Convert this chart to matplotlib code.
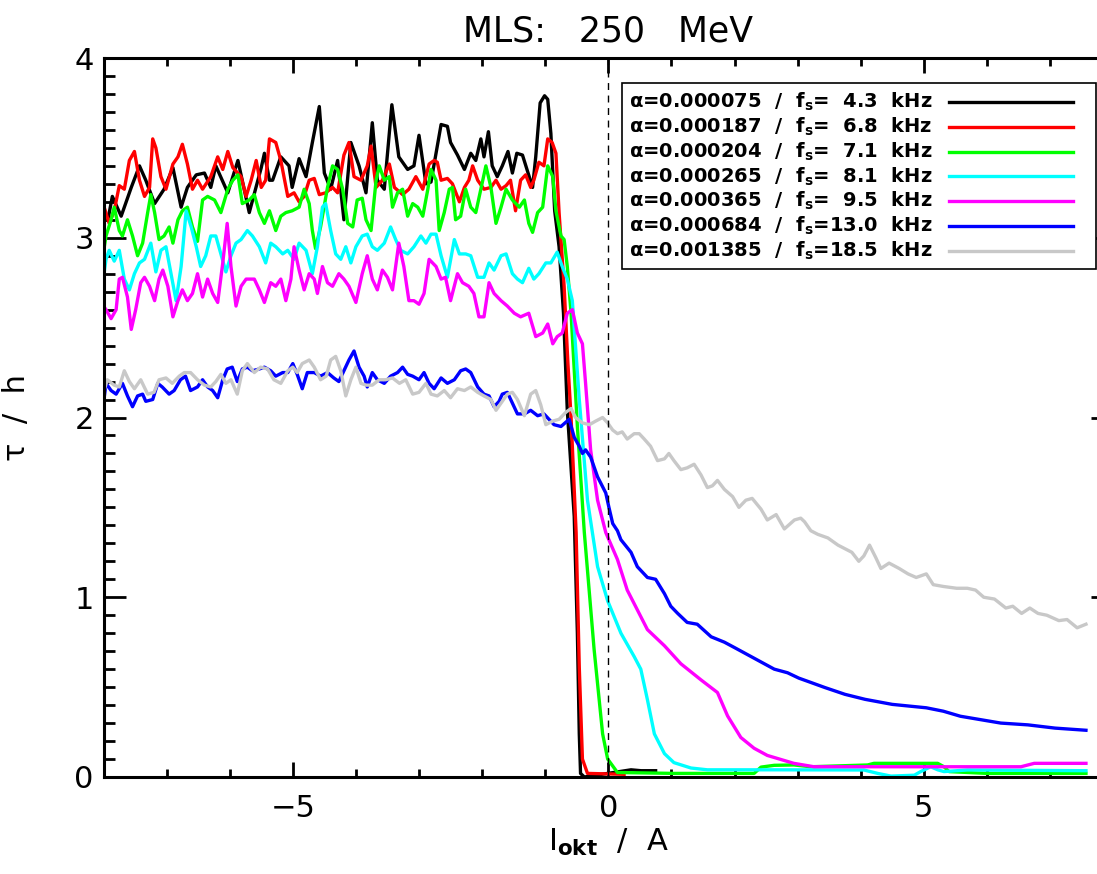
import matplotlib
matplotlib.use('Agg')
import matplotlib.pyplot as plt
from matplotlib.ticker import MultipleLocator

plt.rcParams['font.family'] = ['DejaVu Sans']
plt.rcParams['mathtext.fontset'] = 'dejavusans'

# Werte (I_okt in A, tau in h)
bk_x = [-8.00, -7.93, -7.86, -7.72, -7.56, -7.43, -7.33, -7.19, -7.04, -6.90, -6.77, -6.67, -6.53, -6.40, -6.30,
        -6.22, -6.03, -5.87, -5.69, -5.50, -5.45, -5.37, -5.32, -5.19, -5.06, -5.01, -4.90, -4.79, -4.69, -4.58,
        -4.50, -4.40, -4.29, -4.19, -4.08, -3.95, -3.84, -3.74, -3.66, -3.55, -3.43, -3.32, -3.18, -3.08, -3.00,
        -2.89, -2.81, -2.65, -2.55, -2.50, -2.39, -2.28, -2.18, -2.10, -2.02, -1.97, -1.90, -1.84, -1.76, -1.68,
        -1.59, -1.52, -1.45, -1.36, -1.28, -1.20, -1.15, -1.08, -1.01, -0.96, -0.91, -0.85, -0.78, -0.71, -0.65,
        -0.54, -0.49, -0.46, -0.44, -0.38, -0.01, 0.36, 0.52, 0.75]
bk_y = [3.12, 3.10, 3.23, 3.12, 3.28, 3.40, 3.32, 3.19, 3.27, 3.39, 3.17, 3.28, 3.35, 3.36, 3.28,
        3.40, 3.25, 3.43, 3.14, 3.39, 3.47, 3.32, 3.32, 3.45, 3.40, 3.28, 3.44, 3.34, 3.53, 3.73,
        3.36, 3.27, 3.43, 3.10, 3.53, 3.40, 3.25, 3.64, 3.32, 3.27, 3.74, 3.45, 3.38, 3.40, 3.57,
        3.30, 3.31, 3.63, 3.62, 3.53, 3.46, 3.38, 3.47, 3.43, 3.55, 3.45, 3.59, 3.40, 3.34, 3.40,
        3.48, 3.36, 3.47, 3.46, 3.37, 3.28, 3.45, 3.75, 3.79, 3.77, 3.58, 3.15, 2.95, 2.58, 2.04,
        1.45, 0.80, 0.24, 0.02, 0.00, 0.02, 0.04, 0.035, 0.035]

rd_x = [-8.00, -7.99, -7.91, -7.83, -7.75, -7.67, -7.59, -7.51, -7.43, -7.35, -7.27, -7.22, -7.17, -7.09, -7.01,
        -6.90, -6.82, -6.75, -6.67, -6.59, -6.51, -6.43, -6.30, -6.19, -6.11, -6.03, -5.95, -5.82, -5.74, -5.66,
        -5.58, -5.50, -5.43, -5.37, -5.27, -5.19, -5.08, -4.98, -4.90, -4.82, -4.74, -4.66, -4.58, -4.48, -4.37,
        -4.29, -4.19, -4.11, -4.03, -3.92, -3.82, -3.76, -3.68, -3.58, -3.47, -3.39, -3.26, -3.16, -3.05, -2.94,
        -2.84, -2.76, -2.71, -2.65, -2.55, -2.47, -2.36, -2.28, -2.21, -2.15, -2.07, -1.97, -1.86, -1.78, -1.70,
        -1.62, -1.55, -1.47, -1.39, -1.31, -1.23, -1.18, -1.10, -1.02, -0.96, -0.89, -0.83, -0.78, -0.70, -0.64,
        -0.59, -0.51, -0.46, -0.41, -0.33, 0.25]
rd_y = [3.36, 3.17, 3.08, 3.15, 3.29, 3.27, 3.43, 3.48, 3.32, 3.23, 3.28, 3.55, 3.50, 3.34, 3.27,
        3.41, 3.45, 3.52, 3.41, 3.27, 3.32, 3.27, 3.34, 3.45, 3.38, 3.48, 3.39, 3.34, 3.23, 3.32,
        3.43, 3.28, 3.32, 3.55, 3.53, 3.43, 3.23, 3.25, 3.20, 3.23, 3.32, 3.33, 3.24, 3.25, 3.28,
        3.25, 3.46, 3.53, 3.34, 3.32, 3.40, 3.51, 3.28, 3.32, 3.41, 3.28, 3.24, 3.27, 3.34, 3.27,
        3.41, 3.43, 3.42, 3.32, 3.33, 3.30, 3.20, 3.28, 3.32, 3.40, 3.32, 3.27, 3.28, 3.32, 3.27,
        3.29, 3.32, 3.15, 3.32, 3.35, 3.28, 3.32, 3.42, 3.40, 3.55, 3.53, 3.47, 3.14, 2.73, 2.30,
        2.00, 1.36, 0.61, 0.10, 0.02, 0.015]

gn_x = [-8.00, -7.96, -7.88, -7.83, -7.75, -7.70, -7.62, -7.54, -7.46, -7.38, -7.30, -7.25, -7.19, -7.12, -7.04,
        -6.96, -6.90, -6.82, -6.75, -6.67, -6.59, -6.51, -6.43, -6.35, -6.24, -6.14, -6.03, -5.95, -5.87, -5.80,
        -5.69, -5.61, -5.53, -5.45, -5.37, -5.27, -5.19, -5.11, -5.01, -4.90, -4.82, -4.74, -4.69, -4.64, -4.56,
        -4.45, -4.37, -4.29, -4.21, -4.13, -4.05, -3.98, -3.90, -3.84, -3.76, -3.68, -3.63, -3.55, -3.47, -3.42,
        -3.34, -3.26, -3.18, -3.10, -3.02, -2.94, -2.86, -2.81, -2.73, -2.68, -2.60, -2.52, -2.47, -2.42, -2.34,
        -2.26, -2.18, -2.10, -2.02, -1.94, -1.86, -1.78, -1.70, -1.62, -1.52, -1.41, -1.33, -1.26, -1.20, -1.12,
        -1.04, -0.96, -0.88, -0.83, -0.75, -0.70, -0.65, -0.59, -0.49, -0.38, -0.225, -0.09, -0.01, 0.145, 1.04,
        2.31, 2.42, 2.63, 2.94, 3.21, 4.11, 4.21, 5.22, 5.32, 5.40, 6.00, 7.57]
gn_y = [2.92, 3.01, 3.10, 3.17, 3.04, 3.01, 3.10, 3.01, 2.90, 2.97, 3.14, 3.24, 3.14, 2.99, 3.01,
        3.06, 2.97, 3.10, 3.15, 3.17, 3.06, 2.98, 3.21, 3.23, 3.21, 3.14, 3.27, 3.32, 3.35, 3.19,
        3.21, 3.24, 3.14, 3.08, 3.15, 3.04, 3.12, 3.14, 3.15, 3.17, 3.27, 3.19, 3.04, 2.94, 3.06,
        3.28, 3.40, 3.38, 3.27, 3.08, 3.06, 3.21, 3.22, 3.10, 3.04, 3.32, 3.40, 3.32, 3.34, 3.17,
        3.25, 3.27, 3.12, 3.19, 3.17, 3.12, 3.27, 3.38, 3.32, 3.04, 3.14, 3.27, 3.28, 3.10, 3.12,
        3.27, 3.17, 3.14, 3.27, 3.40, 3.28, 3.08, 3.17, 3.27, 3.21, 3.17, 3.21, 3.08, 3.03, 3.14,
        3.17, 3.40, 3.34, 3.15, 3.01, 2.99, 2.84, 2.58, 1.95, 1.36, 0.71, 0.24, 0.10, 0.025, 0.02,
        0.02, 0.055, 0.065, 0.067, 0.057, 0.067, 0.076, 0.076, 0.057, 0.03, 0.02, 0.02]

cy_x = [-8.00, -7.96, -7.91, -7.83, -7.75, -7.67, -7.59, -7.51, -7.43, -7.35, -7.25, -7.17, -7.09, -7.01, -6.93,
        -6.85, -6.77, -6.69, -6.61, -6.53, -6.46, -6.38, -6.30, -6.22, -6.14, -6.06, -5.98, -5.90, -5.82, -5.72,
        -5.64, -5.53, -5.43, -5.35, -5.27, -5.16, -5.08, -4.98, -4.90, -4.79, -4.69, -4.61, -4.53, -4.48, -4.40,
        -4.32, -4.24, -4.16, -4.08, -4.00, -3.90, -3.82, -3.74, -3.66, -3.55, -3.45, -3.37, -3.29, -3.18, -3.08,
        -2.97, -2.89, -2.81, -2.73, -2.65, -2.55, -2.44, -2.36, -2.26, -2.18, -2.07, -1.97, -1.89, -1.81, -1.70,
        -1.62, -1.52, -1.44, -1.36, -1.26, -1.18, -1.10, -0.99, -0.91, -0.81, -0.73, -0.65, -0.57, -0.46, -0.33,
        -0.17, -0.01, 0.20, 0.41, 0.515, 0.62, 0.73, 0.89, 1.04, 1.31, 1.57, 2.63, 4.05, 4.27, 4.48,
        4.85, 4.95, 5.11, 5.22, 5.32, 5.69, 7.57]
cy_y = [2.78, 2.88, 2.93, 2.87, 2.93, 2.77, 2.71, 2.80, 2.86, 2.88, 2.97, 2.81, 2.93, 2.95, 2.80,
        2.65, 2.84, 3.15, 3.06, 2.95, 2.84, 2.90, 3.01, 3.01, 2.91, 2.81, 2.90, 2.97, 2.99, 3.04,
        3.01, 2.95, 2.86, 2.97, 2.95, 2.91, 2.93, 2.88, 2.97, 2.93, 2.80, 2.95, 3.17, 3.19, 3.04,
        2.91, 2.88, 2.95, 2.86, 2.95, 3.01, 3.02, 2.95, 2.93, 2.97, 3.06, 2.99, 2.93, 2.91, 2.95,
        3.01, 2.97, 3.02, 3.02, 2.90, 2.78, 2.99, 2.91, 2.91, 2.90, 2.78, 2.78, 2.86, 2.82, 2.90,
        2.91, 2.80, 2.77, 2.75, 2.83, 2.77, 2.80, 2.86, 2.86, 2.92, 2.84, 2.77, 2.65, 2.10, 1.54,
        1.17, 0.98, 0.80, 0.67, 0.60, 0.43, 0.24, 0.13, 0.08, 0.05, 0.04, 0.04, 0.039, 0.02, 0.005,
        0.01, 0.03, 0.057, 0.04, 0.03, 0.039, 0.035]

mg_x = [-8.00, -7.96, -7.88, -7.80, -7.75, -7.70, -7.62, -7.56, -7.49, -7.41, -7.35, -7.27, -7.19, -7.12, -7.06,
        -6.98, -6.90, -6.82, -6.75, -6.67, -6.59, -6.51, -6.43, -6.35, -6.27, -6.19, -6.11, -6.04, -5.98, -5.90,
        -5.82, -5.74, -5.61, -5.53, -5.45, -5.35, -5.27, -5.19, -5.11, -5.03, -4.98, -4.90, -4.82, -4.74, -4.66,
        -4.61, -4.53, -4.45, -4.37, -4.27, -4.19, -4.11, -4.00, -3.90, -3.82, -3.74, -3.66, -3.58, -3.50, -3.42,
        -3.32, -3.24, -3.16, -3.08, -3.00, -2.92, -2.84, -2.73, -2.65, -2.58, -2.50, -2.39, -2.31, -2.21, -2.13,
        -2.05, -1.97, -1.89, -1.81, -1.70, -1.60, -1.49, -1.39, -1.26, -1.15, -1.04, -0.96, -0.88, -0.81, -0.73,
        -0.65, -0.57, -0.49, -0.41, -0.36, -0.28, -0.17, -0.04, 0.145, 0.30, 0.46, 0.62, 0.89, 1.15, 1.47,
        1.73, 1.89, 2.10, 2.31, 2.52, 2.94, 3.26, 4.64, 6.54, 6.75, 7.57]
mg_y = [2.62, 2.60, 2.55, 2.60, 2.77, 2.78, 2.67, 2.49, 2.60, 2.75, 2.78, 2.73, 2.65, 2.77, 2.82,
        2.73, 2.56, 2.65, 2.71, 2.65, 2.69, 2.80, 2.67, 2.77, 2.69, 2.64, 2.86, 3.08, 2.84, 2.62,
        2.73, 2.77, 2.77, 2.71, 2.64, 2.75, 2.73, 2.77, 2.65, 2.77, 2.95, 2.82, 2.71, 2.80, 2.77,
        2.69, 2.84, 2.75, 2.73, 2.80, 2.77, 2.73, 2.64, 2.80, 2.90, 2.77, 2.71, 2.82, 2.78, 2.71,
        2.97, 2.84, 2.65, 2.65, 2.63, 2.69, 2.88, 2.84, 2.77, 2.78, 2.65, 2.80, 2.75, 2.73, 2.69,
        2.56, 2.56, 2.75, 2.69, 2.65, 2.62, 2.58, 2.56, 2.58, 2.45, 2.47, 2.52, 2.41, 2.45, 2.47,
        2.58, 2.60, 2.47, 2.41, 2.19, 1.82, 1.54, 1.36, 1.21, 1.04, 0.93, 0.82, 0.73, 0.63, 0.54,
        0.47, 0.34, 0.22, 0.16, 0.12, 0.076, 0.057, 0.057, 0.057, 0.076, 0.076]

bl_x = [-8.00, -7.96, -7.88, -7.80, -7.70, -7.62, -7.54, -7.46, -7.38, -7.33, -7.22, -7.14, -7.07, -6.96, -6.88,
        -6.78, -6.70, -6.62, -6.51, -6.43, -6.35, -6.27, -6.19, -6.11, -6.04, -5.96, -5.88, -5.80, -5.72, -5.64,
        -5.53, -5.45, -5.35, -5.27, -5.16, -5.08, -5.00, -4.93, -4.85, -4.77, -4.66, -4.56, -4.45, -4.35, -4.27,
        -4.19, -4.11, -4.03, -3.95, -3.87, -3.82, -3.74, -3.66, -3.55, -3.45, -3.34, -3.26, -3.18, -3.10, -3.00,
        -2.92, -2.84, -2.76, -2.65, -2.55, -2.44, -2.34, -2.26, -2.18, -2.07, -1.97, -1.89, -1.81, -1.73, -1.68,
        -1.60, -1.52, -1.44, -1.33, -1.23, -1.12, -1.02, -0.94, -0.86, -0.75, -0.62, -0.54, -0.46, -0.41, -0.36,
        -0.28, -0.17, -0.04, 0.01, 0.07, 0.145, 0.20, 0.36, 0.46, 0.62, 0.75, 0.89, 0.99, 1.10, 1.25,
        1.41, 1.63, 1.84, 2.00, 2.21, 2.42, 2.63, 2.84, 3.02, 3.21, 3.43, 3.75, 4.07, 4.50, 5.04,
        5.31, 5.58, 5.90, 6.22, 6.65, 7.08, 7.57]
bl_y = [2.08, 2.19, 2.15, 2.13, 2.19, 2.12, 2.06, 2.12, 2.13, 2.09, 2.10, 2.19, 2.17, 2.13, 2.15,
        2.21, 2.23, 2.15, 2.17, 2.21, 2.17, 2.15, 2.11, 2.21, 2.27, 2.28, 2.20, 2.27, 2.28, 2.26,
        2.27, 2.28, 2.26, 2.23, 2.25, 2.25, 2.30, 2.24, 2.16, 2.25, 2.25, 2.23, 2.25, 2.22, 2.20,
        2.26, 2.32, 2.37, 2.28, 2.23, 2.17, 2.25, 2.21, 2.19, 2.23, 2.25, 2.28, 2.24, 2.23, 2.21,
        2.25, 2.19, 2.16, 2.22, 2.19, 2.21, 2.26, 2.27, 2.25, 2.17, 2.13, 2.12, 2.06, 2.09, 2.13,
        2.14, 2.08, 2.02, 2.02, 2.04, 2.01, 2.02, 1.99, 1.96, 1.95, 1.99, 1.89, 1.84, 1.80, 1.82,
        1.78, 1.67, 1.58, 1.50, 1.41, 1.37, 1.32, 1.25, 1.17, 1.11, 1.10, 1.02, 0.95, 0.91, 0.86,
        0.85, 0.78, 0.75, 0.72, 0.68, 0.64, 0.60, 0.58, 0.55, 0.526, 0.498, 0.46, 0.432, 0.404, 0.385,
        0.366, 0.338, 0.319, 0.30, 0.29, 0.272, 0.26]

gr_x = [-8.00, -7.94, -7.83, -7.75, -7.67, -7.59, -7.51, -7.41, -7.30, -7.20, -7.12, -7.01, -6.91, -6.80, -6.72,
        -6.62, -6.51, -6.40, -6.30, -6.22, -6.14, -6.06, -5.98, -5.88, -5.80, -5.72, -5.61, -5.51, -5.40, -5.30,
        -5.19, -5.08, -5.00, -4.93, -4.85, -4.74, -4.66, -4.56, -4.47, -4.40, -4.32, -4.24, -4.16, -4.08, -4.00,
        -3.92, -3.84, -3.74, -3.63, -3.53, -3.42, -3.31, -3.21, -3.10, -3.00, -2.89, -2.81, -2.71, -2.60, -2.50,
        -2.39, -2.28, -2.18, -2.07, -1.97, -1.86, -1.78, -1.70, -1.60, -1.52, -1.44, -1.33, -1.23, -1.15, -1.07,
        -0.99, -0.88, -0.78, -0.67, -0.59, -0.52, -0.41, -0.30, -0.20, -0.09, -0.01, 0.07, 0.145, 0.22, 0.30,
        0.41, 0.49, 0.57, 0.67, 0.78, 0.89, 0.96, 1.04, 1.15, 1.25, 1.36, 1.47, 1.57, 1.65, 1.73,
        1.84, 1.97, 2.07, 2.18, 2.28, 2.42, 2.52, 2.66, 2.79, 2.95, 3.05, 3.11, 3.21, 3.32, 3.48,
        3.64, 3.75, 3.86, 3.97, 4.05, 4.14, 4.24, 4.32, 4.45, 4.61, 4.75, 4.88, 5.04, 5.15, 5.31,
        5.52, 5.69, 5.82, 5.95, 6.12, 6.30, 6.41, 6.55, 6.68, 6.81, 6.95, 7.14, 7.27, 7.43, 7.57]
gr_y = [2.14, 2.21, 2.18, 2.17, 2.26, 2.20, 2.16, 2.21, 2.13, 2.14, 2.21, 2.22, 2.19, 2.23, 2.25,
        2.25, 2.21, 2.18, 2.17, 2.20, 2.24, 2.19, 2.21, 2.13, 2.26, 2.30, 2.25, 2.28, 2.27, 2.21,
        2.19, 2.26, 2.28, 2.25, 2.30, 2.32, 2.28, 2.21, 2.23, 2.32, 2.34, 2.26, 2.12, 2.21, 2.28,
        2.19, 2.18, 2.18, 2.21, 2.21, 2.22, 2.19, 2.21, 2.13, 2.14, 2.19, 2.13, 2.12, 2.15, 2.11,
        2.16, 2.15, 2.17, 2.14, 2.12, 2.10, 2.04, 2.08, 2.13, 2.14, 2.10, 2.01, 2.13, 2.15, 2.07,
        1.96, 1.98, 1.99, 2.03, 2.05, 2.00, 1.97, 1.96, 1.98, 2.00, 1.97, 1.93, 1.91, 1.92, 1.88,
        1.91, 1.91, 1.88, 1.84, 1.76, 1.77, 1.80, 1.76, 1.71, 1.72, 1.74, 1.68, 1.61, 1.62, 1.65,
        1.60, 1.56, 1.50, 1.54, 1.55, 1.49, 1.43, 1.46, 1.38, 1.43, 1.44, 1.42, 1.37, 1.35, 1.33,
        1.29, 1.27, 1.25, 1.20, 1.23, 1.29, 1.22, 1.16, 1.19, 1.16, 1.13, 1.11, 1.13, 1.07, 1.06,
        1.05, 1.05, 1.04, 1.00, 0.99, 0.94, 0.95, 0.91, 0.94, 0.91, 0.90, 0.87, 0.876, 0.83, 0.85]

labels = ['α=0.000075  /  f$_\\mathregular{s}$=  4.3  kHz',
          'α=0.000187  /  f$_\\mathregular{s}$=  6.8  kHz',
          'α=0.000204  /  f$_\\mathregular{s}$=  7.1  kHz',
          'α=0.000265  /  f$_\\mathregular{s}$=  8.1  kHz',
          'α=0.000365  /  f$_\\mathregular{s}$=  9.5  kHz',
          'α=0.000684  /  f$_\\mathregular{s}$=13.0  kHz',
          'α=0.001385  /  f$_\\mathregular{s}$=18.5  kHz']
colors = ['black', '#ff0000', '#00ff00', '#00ffff', '#ff00ff', '#0000ff', '#c8c8c8']
series = [(bk_x, bk_y), (rd_x, rd_y), (gn_x, gn_y), (cy_x, cy_y),
          (mg_x, mg_y), (bl_x, bl_y), (gr_x, gr_y)]

fig = plt.figure(figsize=(10.97, 8.74), dpi=100)
ax = fig.add_axes([103.5 / 1097, 97 / 874, 1009.6 / 1097, 719 / 874])

for (xs, ys), c in zip(series, colors):
    ax.plot(xs, ys, color=c, lw=2.4, solid_joinstyle='round')

ax.axvline(0, color='black', lw=1.0, ls=(0, (5, 4)))

ax.set_xlim(-8, 8)
ax.set_ylim(0, 4)
ax.xaxis.set_major_locator(MultipleLocator(5))
ax.xaxis.set_minor_locator(MultipleLocator(1))
ax.yaxis.set_major_locator(MultipleLocator(1))
ax.yaxis.set_minor_locator(MultipleLocator(0.1))
ax.tick_params(which='both', direction='in', top=True, right=True, width=2, labelsize=22)
ax.xaxis.set_tick_params(which='major', length=11, pad=12)
ax.xaxis.set_tick_params(which='minor', length=5.5)
ax.yaxis.set_tick_params(which='major', length=16, pad=7)
ax.yaxis.set_tick_params(which='minor', length=8)
for s in ax.spines.values():
    s.set_linewidth(2.2)

ax.set_xlabel('I$_\\mathbf{okt}$  /  A', fontsize=22)
ax.xaxis.set_label_coords(0.5, -0.07)
ax.set_ylabel('τ  /  h', fontsize=22)
ax.yaxis.set_label_coords(-0.072, 0.5)
ax.set_title('MLS:   250   MeV', fontsize=25, pad=12)

# Legende von Hand, wie im IDL-Plot
box = plt.Rectangle((0.5136, 0.7066), 0.4694, 0.2584, transform=ax.transAxes,
                    fill=True, facecolor='white', edgecolor='black', lw=1.2, zorder=5)
ax.add_patch(box)
for i, (lab, c) in enumerate(zip(labels, colors)):
    yy = 0.9388 - i * 0.03453
    ax.text(0.8207, yy, lab, transform=ax.transAxes, ha='right', va='center',
            fontsize=14, fontweight='bold', zorder=6)
    ax.plot([0.8375, 0.9603], [yy, yy], transform=ax.transAxes, color=c, lw=2.4, zorder=6)

fig.savefig('out.png', dpi=100)
